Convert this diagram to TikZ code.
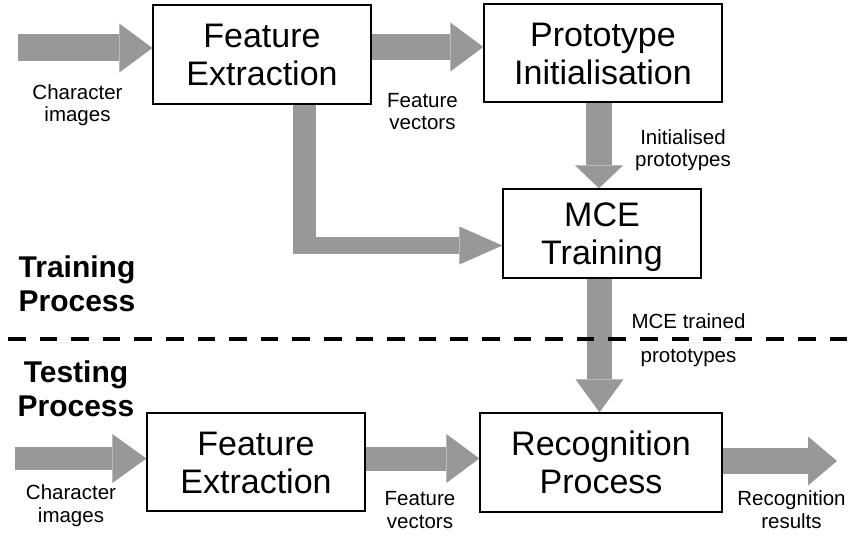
\documentclass[tikz,border=0pt]{standalone}
\usepackage{fontspec}
\setmainfont{Liberation Sans}
\usetikzlibrary{arrows.meta,backgrounds}
\definecolor{shaftgray}{RGB}{152,152,152}
\tikzset{
  stage/.style={draw=black, line width=1.3pt, fill=white, align=center,
    font=\fontsize{34}{38}\selectfont, text height=62.4pt, text depth=0pt, inner sep=0pt},
  note/.style={align=center, font=\fontsize{20.5}{22.5}\selectfont, anchor=base, inner sep=0pt},
  phase/.style={align=center, font=\fontsize{30}{34}\selectfont\bfseries, anchor=base, inner sep=0pt},
  flow/.style={draw=shaftgray, line width=#1},
}
\begin{document}
\begin{tikzpicture}[x=1pt,y=-1pt]
\useasboundingbox (0,0) rectangle (851,545);

% processing stages
\node[stage, minimum width=218pt, minimum height=99pt] (fe1) at (262,54.5) {Feature\\Extraction};
\node[stage, minimum width=238pt, minimum height=98pt] (pi)  at (603,53)   {Prototype\\Initialisation};
\node[stage, minimum width=198pt, minimum height=89pt] (mce) at (602,233.5) {MCE\\Training};
\node[stage, minimum width=218pt, minimum height=98pt] (fe2) at (256,462)  {Feature\\Extraction};
\node[stage, minimum width=242pt, minimum height=99pt] (rec) at (601,462.5) {Recognition\\Process};

% data labels (placed by the baseline of their last line)
\node[note] (l1) at (77.5,122) {Character\\images};
\node[note] (l2) at (422.5,130) {Feature\\vectors};
\node[note] (l3) at (683,167) {Initialised\\prototypes};
\node[note] (l4) at (688.5,362) {MCE trained\\[11.5pt]prototypes};
\node[note] (l5) at (71,522) {Character\\images};
\node[note] (l6) at (420,528) {Feature\\vectors};
\node[note] (l7) at (791.5,528) {Recognition\\results};

% phase titles
\node[phase] (tr) at (77,312) {Training\\Process};
\node[phase] (te) at (76,416) {Testing\\Process};

% fixed points for the flow arrows
\coordinate (src1) at (18,48);
\coordinate (a2) at (0,47);
\coordinate (a3v) at (304.5,254);
\coordinate (a3h) at (293,245.5);
\coordinate (a4) at (599,0);
\coordinate (a5) at (599.5,0);
\coordinate (src2) at (15,458.5);
\coordinate (a7) at (0,458.5);
\coordinate (snk) at (837,461);
\coordinate (dl) at (8,339);
\coordinate (dr) at (851,339);

\begin{scope}[on background layer]
  \fill[white] (0,0) rectangle (851,545);
  \draw[flow=27pt, -{Triangle[length=33pt,width=49pt,line width=0pt]}] (src1) -- (src1 -| fe1.west);
  \draw[flow=26pt, -{Triangle[length=33pt,width=49pt,line width=0pt]}] (fe1.east |- a2) -- (pi.west |- a2);
  \draw[flow=23pt] (fe1.south -| a3v) -- (a3v);
  \draw[flow=17pt, -{Triangle[length=43pt,width=38pt,line width=0pt]}] (a3h) -- (mce.west |- a3h);
  \draw[flow=26pt, -{Triangle[length=23pt,width=48pt,line width=0pt]}] (pi.south -| a4) -- (mce.north -| a4);
  \draw[flow=25pt, -{Triangle[length=33pt,width=48pt,line width=0pt]}] (mce.south -| a5) -- (rec.north -| a5);
  \draw[flow=23pt, -{Triangle[length=34pt,width=49pt,line width=0pt]}] (src2) -- (src2 -| fe2.west);
  \draw[flow=24pt, -{Triangle[length=33pt,width=49pt,line width=0pt]}] (fe2.east |- a7) -- (rec.west |- a7);
  \draw[flow=26pt, -{Triangle[length=29pt,width=49pt,line width=0pt]}] (rec.east |- snk) -- (snk);
\end{scope}

% boundary between training and testing
\draw[black, line width=4.5pt, dash pattern=on 17.5pt off 14.1pt] (dl) -- (dr);
\end{tikzpicture}
\end{document}
